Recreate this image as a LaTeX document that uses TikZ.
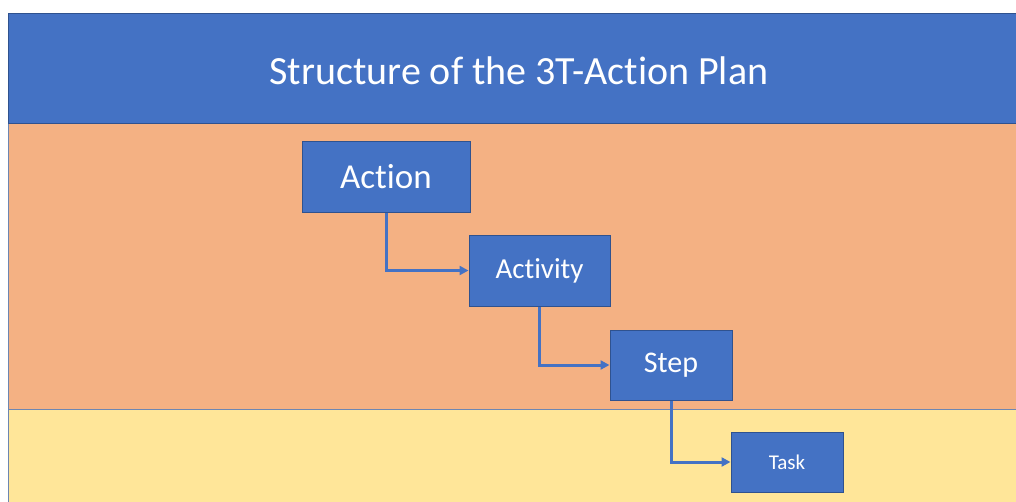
\documentclass[tikz,border=0pt]{standalone}
\usepackage{fontspec}
\setmainfont[Ligatures=NoCommon]{Carlito}
\usetikzlibrary{arrows.meta}

\definecolor{planblue}{HTML}{4472C4}
\definecolor{planedge}{HTML}{2F528F}
\definecolor{planorange}{HTML}{F4B183}
\definecolor{planyellow}{HTML}{FFE699}

\begin{document}
\begin{tikzpicture}[x=1pt,y=-1pt,
  level/.style={draw=planedge, line width=1pt, fill=planblue, text=white, inner sep=0pt},
  link/.style={draw=planblue, line width=3pt, -{Triangle[length=9pt,width=9pt]}}]

\useasboundingbox (0,0) rectangle (1016,501);

% bands
\path [fill=planyellow, draw=planedge!70!white, line width=0.8pt] (8,409) rectangle (1030,520);
\path [fill=planorange, draw=planedge!70!white, line width=0.8pt] (8,123) rectangle (1030,409);
\path [fill=planblue, draw=planedge, line width=1pt] (8,13) rectangle (1030,123);
\node (title) at (519,71) [text=white] {\fontsize{40}{48}\selectfont Structure of the 3T-Action Plan};

% levels
\node (action) at (386,176.5) [level, minimum width=168pt, minimum height=71pt] {\fontsize{35}{42}\selectfont Action};
\node (activity) at (539.5,270.5) [level, minimum width=141pt, minimum height=71pt] {\fontsize{29}{35}\selectfont Activity};
\node (step) at (671,365) [level, minimum width=122pt, minimum height=70pt] {\fontsize{30}{36}\selectfont Step};
\node (task) at (787,462) [level, minimum width=112pt, minimum height=60pt] {\fontsize{21}{25}\selectfont Task};

\draw [link] (action.south) |- (activity.west);
\draw [link] (activity.south) |- (step.west);
\draw [link] (step.south) |- (task.west);

\end{tikzpicture}
\end{document}
